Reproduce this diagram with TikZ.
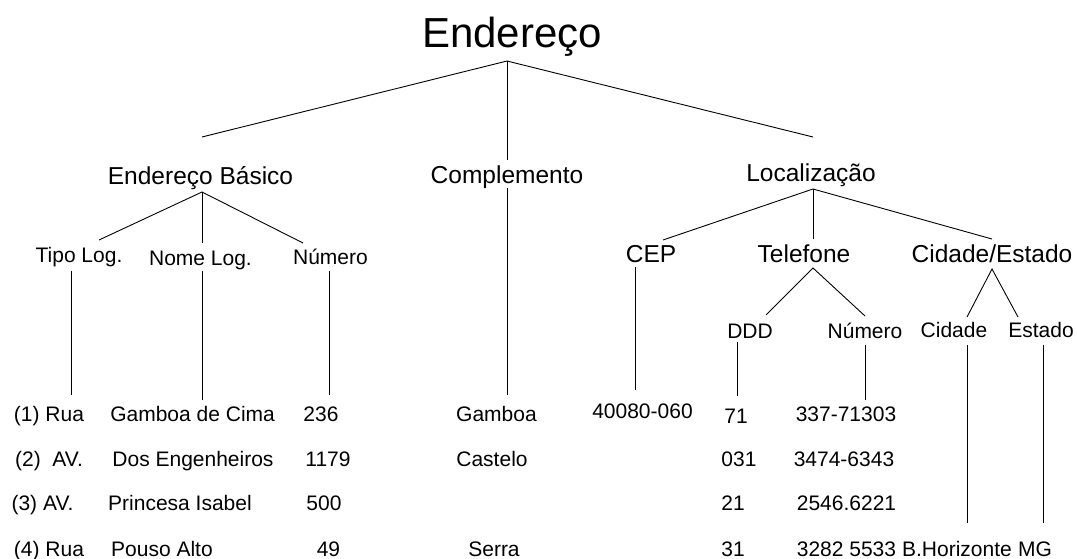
\documentclass[tikz,border=0pt]{standalone}
\usepackage{fontspec}
\setmainfont{Liberation Sans}
\begin{document}
\begin{tikzpicture}[x=1pt,y=-1pt,
  txt/.style={inner sep=0pt, anchor=base},
  big/.style={txt, font=\fontsize{42}{46}\selectfont},
  mid/.style={txt, font=\fontsize{24.5}{28}\selectfont},
  small/.style={txt, font=\fontsize{21}{24}\selectfont},
  link/.style={draw=black, line width=0.9pt}]
\useasboundingbox (0,0) rectangle (1077,559);

% ---- labels of the tree ----
\node[big] (root) at (512,48) {Endereço};
\node[mid] (basic) at (200.5,185) {Endereço Básico};
\node[mid] (compl) at (507,183) {Complemento};
\node[mid] (loc) at (811,182) {Localização};
\node[small] (tipo) at (79,262) {Tipo Log.};
\node[small] (nome) at (200.5,265) {Nome Log.};
\node[small] (num) at (330.5,264) {Número};
\node[mid] (cep) at (651,262) {CEP};
\node[mid] (tel) at (804,262) {Telefone};
\node[mid] (cidest) at (992,262) {Cidade/Estado};
\node[small] (ddd) at (750,338) {DDD};
\node[small] (telnum) at (865,338) {Número};
\node[small] (cid) at (954,337) {Cidade};
\node[small] (est) at (1041,337) {Estado};

% ---- junction and end points of the connectors ----
\coordinate (rootJ) at (507,61);
\coordinate (basicT) at (202,137);
\coordinate (complT) at (507,160);
\coordinate (locT) at (813,137);
\coordinate (basicJ) at (202,192);
\coordinate (tipoT) at (99,240);
\coordinate (nomeT) at (202,243);
\coordinate (numT) at (303,243);
\coordinate (tipoB) at (71,271);
\coordinate (tipoE) at (71,395);
\coordinate (nomeB) at (202,271);
\coordinate (nomeE) at (202,400);
\coordinate (numB) at (329,271);
\coordinate (numE) at (329,395);
\coordinate (complB) at (507,188);
\coordinate (complE) at (507,395);
\coordinate (locJ) at (813,189);
\coordinate (cepT) at (663,240);
\coordinate (telT) at (813,239);
\coordinate (cidestT) at (992,239);
\coordinate (cepB) at (635,267);
\coordinate (cepE) at (635,390);
\coordinate (telJ) at (813,268);
\coordinate (dddT) at (766,315);
\coordinate (telnumT) at (865,316);
\coordinate (cidestJ) at (992,269);
\coordinate (cidT) at (967,317);
\coordinate (estT) at (1018,317);
\coordinate (dddB) at (737,342);
\coordinate (dddE) at (737,396);
\coordinate (telnumB) at (865,345);
\coordinate (telnumE) at (865,400);
\coordinate (cidB) at (967,345);
\coordinate (cidE) at (967,523);
\coordinate (estB) at (1043,345);
\coordinate (estE) at (1043,523);

% ---- connectors ----
\draw[link] (basicT) -- (rootJ) -- (locT);
\draw[link] (rootJ) -- (complT);
\draw[link] (tipoT) -- (basicJ) -- (numT);
\draw[link] (basicJ) -- (nomeT);
\draw[link] (tipoB) -- (tipoE);
\draw[link] (nomeB) -- (nomeE);
\draw[link] (numB) -- (numE);
\draw[link] (complB) -- (complE);
\draw[link] (cepT) -- (locJ) -- (cidestT);
\draw[link] (locJ) -- (telT);
\draw[link] (cepB) -- (cepE);
\draw[link] (dddT) -- (telJ) -- (telnumT);
\draw[link] (cidT) -- (cidestJ) -- (estT);
\draw[link] (dddB) -- (dddE);
\draw[link] (telnumB) -- (telnumE);
\draw[link] (cidB) -- (cidE);
\draw[link] (estB) -- (estE);

% ---- data rows ----
\node[small] (r1a) at (49,421.5) {(1) Rua};
\node[small] (r1b) at (192.6,421.5) {Gamboa de Cima};
\node[small] (r1c) at (321,421.5) {236};
\node[small] (r1d) at (496.5,421.5) {Gamboa};
\node[small] (r1e) at (642.5,418) {40080-060};
\node[small] (r1f) at (736,423) {71};
\node[small] (r1g) at (846,421.5) {337-71303};

\node[small] (r2a) at (49,466) {(2)\ \ AV.};
\node[small] (r2b) at (193,466) {Dos Engenheiros};
\node[small] (r2c) at (328,466) {1179};
\node[small] (r2d) at (492,466) {Castelo};
\node[small] (r2f) at (739,466) {031};
\node[small] (r2g) at (844,466) {3474-6343};

\node[small] (r3a) at (42.5,510) {(3) AV.};
\node[small] (r3b) at (180,510) {Princesa Isabel};
\node[small] (r3c) at (324,510) {500};
\node[small] (r3f) at (733,510) {21};
\node[small] (r3g) at (846.5,510) {2546.6221};

\node[small] (r4a) at (49,556) {(4) Rua};
\node[small] (r4b) at (162,556) {Pouso Alto};
\node[small] (r4c) at (328.5,556) {49};
\node[small] (r4d) at (494,556) {Serra};
\node[small] (r4f) at (733,556) {31};
\node[small] (r4g) at (846.5,556) {3282 5533};
\node[small] (r4h) at (957,556) {B.Horizonte};
\node[small] (r4i) at (1035,556) {MG};
\end{tikzpicture}
\end{document}
